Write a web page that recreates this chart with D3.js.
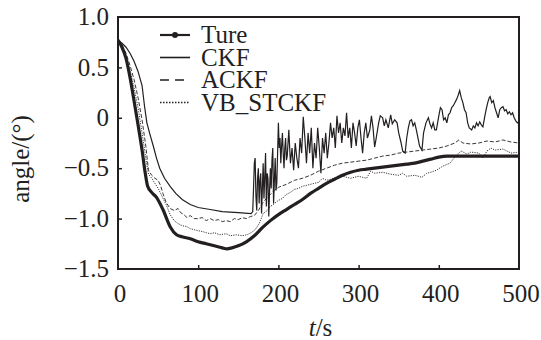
<!DOCTYPE html>
<html><head><meta charset="utf-8">
<script src="https://cdn.jsdelivr.net/npm/d3@7"></script>
<style>
html,body{margin:0;padding:0;background:#fff;}
svg text{font-family:"Liberation Serif","DejaVu Serif","Times New Roman",serif;fill:#231f20;}
</style></head>
<body><svg id="c" width="541" height="340" font-family="Liberation Serif, DejaVu Serif, serif"></svg>
<script>
// ---- data ----
const xTicks = [0, 100, 200, 300, 400, 500];
const yTicks = [1.0, 0.5, 0, -0.5, -1.0, -1.5];
const yTickLabels = ["1.0", "0.5", "0", "\u22120.5", "\u22121.0", "\u22121.5"];
const seriesNames = ["Ture", "CKF", "ACKF", "VB_STCKF"];

const tTure = [0,5,10,15,20,25,30,34,37,42,48,56,65,73,80,90,100,110,120,130,136,142,150,160,170,180,190,200,210,220,230,240,250,260,270,280,290,300,310,320,330,340,350,360,370,380,390,400,410,420,440,460,480,500];
const vTure = [0.77,0.70,0.59,0.40,0.17,-0.07,-0.32,-0.55,-0.68,-0.74,-0.79,-0.91,-1.08,-1.16,-1.18,-1.20,-1.23,-1.25,-1.27,-1.29,-1.30,-1.29,-1.27,-1.23,-1.17,-1.09,-1.02,-0.96,-0.91,-0.86,-0.81,-0.75,-0.70,-0.65,-0.61,-0.57,-0.54,-0.52,-0.51,-0.50,-0.49,-0.48,-0.47,-0.46,-0.45,-0.43,-0.41,-0.39,-0.38,-0.38,-0.38,-0.38,-0.38,-0.38];

const tCKF = [0,5,10,15,20,25,30,33,36,40,44,48,52,58,65,72,80,90,100,115,130,150,166,168,169,170,171,172,173,174,175,176,177,178,179,180,181,182,183,184,185,186,187,188,189,190,191,192,193,194,195,196,197,198,199,200,201,202,203,204,205,206,207,208,209,210,211,213,215,217,219,221,223,225,227,229,231,233,235,237,239,241,243,245,247,249,251,253,255,257,259,261,263,265,267,269,271,273,275,277,279,281,283,285,287,289,291,293,295,297,299,301,303,305,307,309,311,314,316,318,320,322,325,327,330,332,334,337,340,342,345,348,350,353,355,358,360,362,364,366,368,370,372,374,376,379,381,384,387,389,391,393,395,397,400,402,404,406,408,410,412,414,416,418,420,422,424,426,428,430,432,434,436,438,441,443,445,447,449,451,453,455,457,459,461,463,464,466,468,470,472,474,476,478,480,482,484,486,488,490,492,494,496,498,500];
const vCKF = [0.77,0.74,0.70,0.64,0.56,0.46,0.32,0.12,-0.05,-0.17,-0.28,-0.40,-0.50,-0.60,-0.68,-0.75,-0.81,-0.86,-0.89,-0.91,-0.93,-0.94,-0.95,-0.93,-0.70,-0.45,-0.40,-0.78,-0.92,-0.60,-0.50,-0.85,-0.62,-0.55,-0.95,-0.70,-0.45,-0.80,-0.58,-0.35,-0.88,-0.55,-0.60,-0.98,-0.72,-0.50,-0.70,-0.42,-0.30,-0.85,-0.62,-0.40,-0.72,-0.65,-0.35,-0.05,-0.30,-0.20,-0.45,-0.28,-0.15,-0.35,-0.50,-0.30,-0.20,-0.42,-0.38,-0.12,-0.45,-0.30,-0.52,-0.25,-0.40,-0.50,-0.20,-0.35,0.01,-0.20,-0.45,-0.15,-0.35,-0.10,-0.50,-0.25,-0.40,-0.10,-0.30,-0.55,-0.20,-0.35,-0.15,-0.40,-0.25,-0.05,-0.20,-0.10,-0.30,0.02,-0.15,-0.05,-0.25,-0.10,-0.18,0.05,-0.20,-0.10,-0.30,-0.05,-0.15,-0.28,-0.10,-0.02,-0.20,-0.35,-0.15,-0.05,-0.20,-0.12,0.02,-0.10,-0.29,-0.20,-0.05,0.02,0.00,-0.08,-0.02,-0.10,0.03,-0.06,-0.02,-0.05,-0.15,-0.25,-0.33,-0.35,-0.20,-0.10,-0.03,-0.02,-0.08,-0.05,-0.12,-0.20,-0.28,-0.32,-0.15,-0.05,0.00,-0.06,-0.10,-0.05,-0.12,-0.12,0.02,0.10,0.08,-0.02,0.00,-0.05,0.03,0.05,0.10,0.12,0.15,0.18,0.22,0.27,0.20,0.15,0.08,0.05,-0.05,-0.10,-0.12,-0.08,-0.10,-0.05,-0.08,-0.04,-0.07,-0.09,0.00,0.08,0.15,0.20,0.21,0.15,0.17,0.10,0.05,0.00,0.08,0.10,0.11,0.07,0.08,0.04,0.06,0.03,0.05,0.00,-0.03,-0.05,-0.04];

const tACKF = [0,5,10,15,20,25,30,35,38,42,46,50,53,56,60,65,70,75,78,82,86,90,95,100,105,110,115,120,125,130,135,140,145,150,155,160,165,170,175,180,185,190,195,200,210,220,230,240,250,260,270,280,290,300,310,320,330,340,350,360,370,380,390,400,410,420,425,430,440,450,460,470,480,490,500];
const vACKF = [0.77,0.72,0.64,0.52,0.38,0.20,-0.02,-0.30,-0.52,-0.57,-0.60,-0.62,-0.67,-0.75,-0.84,-0.90,-0.92,-0.90,-0.94,-0.96,-0.99,-0.97,-1.00,-1.00,-0.99,-1.02,-1.00,-1.02,-1.01,-1.03,-1.02,-1.03,-1.00,-1.01,-0.99,-1.00,-0.98,-0.97,-0.92,-0.85,-0.80,-0.76,-0.72,-0.69,-0.66,-0.62,-0.60,-0.57,-0.53,-0.50,-0.47,-0.45,-0.44,-0.43,-0.42,-0.40,-0.38,-0.37,-0.35,-0.34,-0.33,-0.32,-0.31,-0.30,-0.28,-0.25,-0.22,-0.25,-0.26,-0.25,-0.23,-0.24,-0.22,-0.24,-0.25];

const tVB = [0,5,10,15,20,25,30,35,38,42,46,50,55,60,65,70,75,80,86,90,95,100,106,110,115,120,127,135,140,148,155,161,166,171,176,181,186,190,195,200,205,210,215,220,225,230,240,250,255,260,270,280,290,300,310,315,320,330,340,350,355,360,370,379,385,390,397,405,414,422,428,435,440,450,455,460,465,470,480,490,500];
const vVB = [0.77,0.70,0.60,0.47,0.30,0.10,-0.15,-0.42,-0.56,-0.60,-0.65,-0.70,-0.78,-0.86,-0.96,-1.02,-1.05,-1.07,-1.08,-1.10,-1.11,-1.12,-1.13,-1.14,-1.15,-1.14,-1.16,-1.15,-1.17,-1.16,-1.17,-1.16,-1.14,-1.11,-1.05,-0.95,-0.92,-0.88,-0.85,-0.82,-0.80,-0.76,-0.74,-0.71,-0.70,-0.68,-0.66,-0.64,-0.60,-0.62,-0.60,-0.58,-0.60,-0.58,-0.60,-0.53,-0.55,-0.54,-0.56,-0.57,-0.55,-0.58,-0.57,-0.59,-0.55,-0.54,-0.52,-0.48,-0.45,-0.37,-0.33,-0.36,-0.34,-0.35,-0.40,-0.33,-0.30,-0.32,-0.31,-0.35,-0.34];

// ---- layout ----
const svg = d3.select("#c");
const L = 118, R = 519, T = 17, B = 269;
const x = d3.scaleLinear().domain([0, 500]).range([L, R]);
const y = d3.scaleLinear().domain([-1.5, 1.0]).range([B, T]);
const ink = "#231f20";
const FS = 25;
const FF = "Liberation Serif, DejaVu Serif, serif";

svg.append("defs").append("clipPath").attr("id", "clip")
  .append("rect").attr("x", L).attr("y", T).attr("width", R - L).attr("height", B - T);

const zip = (ts, vs) => ts.map((t, i) => [t, vs[i]]);
const lineGen = d3.line().x(d => x(d[0])).y(d => y(d[1]));
const smoothGen = d3.line().x(d => x(d[0])).y(d => y(d[1])).curve(d3.curveMonotoneX);

const g = svg.append("g").attr("clip-path", "url(#clip)");
g.append("path").attr("d", lineGen(zip(tVB, vVB))).attr("fill", "none")
  .attr("stroke", ink).attr("stroke-width", 0.9).attr("stroke-dasharray", "1.2,1.2");
g.append("path").attr("d", lineGen(zip(tACKF, vACKF))).attr("fill", "none")
  .attr("stroke", ink).attr("stroke-width", 0.9).attr("stroke-dasharray", "4,2");
g.append("path").attr("d", lineGen(zip(tCKF, vCKF))).attr("fill", "none")
  .attr("stroke", ink).attr("stroke-width", 1.2);
g.append("path").attr("d", smoothGen(zip(tTure, vTure))).attr("fill", "none")
  .attr("stroke", ink).attr("stroke-width", 3.2);

// axes (inward ticks)
const yAxis = d3.axisLeft(y).tickValues([0.5, 0, -0.5, -1.0]).tickSize(-4).tickFormat("");
const xAxis = d3.axisBottom(x).tickValues([100, 200, 300, 400]).tickSize(-4).tickFormat("");
const ya = svg.append("g").attr("transform", `translate(${L},0)`).call(yAxis);
const xa = svg.append("g").attr("transform", `translate(0,${B})`).call(xAxis);
[ya, xa].forEach(a => {
  a.select(".domain").remove();
  a.selectAll("line").attr("stroke", ink).attr("stroke-width", 1.5);
});

// frame
svg.append("rect").attr("x", L).attr("y", T).attr("width", R - L).attr("height", B - T)
  .attr("fill", "none").attr("stroke", ink).attr("stroke-width", 2);

// tick labels
svg.append("g").selectAll("text").data(yTicks).join("text")
  .attr("x", L - 9).attr("y", d => y(d)).attr("dy", "0.33em")
  .attr("text-anchor", "end").attr("font-size", FS).attr("font-family", FF)
  .text((d, i) => yTickLabels[i]);
svg.append("g").selectAll("text").data(xTicks).join("text")
  .attr("x", d => x(d) + 2).attr("y", B + 33)
  .attr("text-anchor", "middle").attr("font-size", FS).attr("font-family", FF)
  .text(d => d3.format("d")(d));

// axis titles
const xt = svg.append("text").attr("x", (L + R) / 2 + 2).attr("y", 336)
  .attr("text-anchor", "middle").attr("font-size", FS).attr("font-family", FF);
xt.append("tspan").attr("font-style", "italic").text("t");
xt.append("tspan").text("/s");
svg.append("text").attr("transform", `translate(29,${(T + B) / 2 + 16}) rotate(-90)`)
  .attr("text-anchor", "middle").attr("font-size", FS).attr("font-family", FF).text("angle/(\u00b0)");

// legend
const lg = svg.append("g");
const rows = [35, 57.5, 80, 102.5];
const styles = [
  {w: 2.2, dash: null},
  {w: 1.6, dash: null},
  {w: 1.6, dash: "9,6"},
  {w: 1.6, dash: "1.5,1.5"}
];
seriesNames.forEach((name, i) => {
  const yy = rows[i];
  const ln = lg.append("line").attr("x1", 160).attr("x2", 190).attr("y1", yy).attr("y2", yy)
    .attr("stroke", ink).attr("stroke-width", styles[i].w);
  if (styles[i].dash) ln.attr("stroke-dasharray", styles[i].dash);
  if (i === 0) lg.append("circle").attr("cx", 175).attr("cy", yy).attr("r", 3).attr("fill", ink);
  lg.append("text").attr("x", 201).attr("y", yy + 8).attr("font-size", FS).attr("font-family", FF).text(name);
});
</script></body></html>
